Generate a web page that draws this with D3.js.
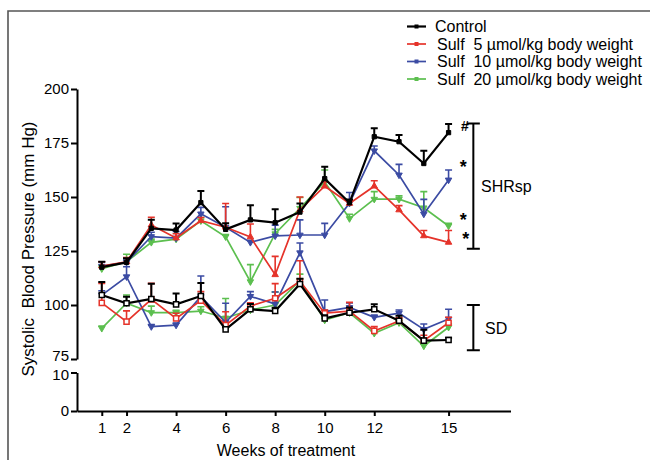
<!doctype html>
<html>
<head>
<meta charset="utf-8">
<script src="https://d3js.org/d3.v7.min.js"></script>
<style>
  body { margin: 0; background: #fff; }
  svg text { font-family: "Liberation Sans", Arial, sans-serif; fill: #000; white-space: pre; }
</style>
</head>
<body>
<div id="chart"></div>
<script>
// weeks of treatment
var weeks = [1, 2, 3, 4, 5, 6, 7, 8, 9, 10, 11, 12, 13, 14, 15];
var xTicks = [1, 2, 4, 6, 8, 10, 12, 15];
var yTicksUpper = [75, 100, 125, 150, 175, 200];
var yTicksLower = [0, 10];

var seriesNames = ["Control", "Sulf  5 \u00b5mol/kg body weight", "Sulf  10 \u00b5mol/kg body weight", "Sulf  20 \u00b5mol/kg body weight"];
var seriesColors = ["#000000", "#e5332a", "#3b4ba3", "#5cbf4f"];

// SHRsp group (mean, SEM up)
var controlSHR = [117.5, 119.7, 135.5, 134.7, 147.4, 135, 139.4, 138.1, 143, 158.5, 147.3, 177.9, 175.6, 165.5, 179.8];
var controlSHRErr = [2.5, 2, 4, 3, 5.4, 2.8, 6.8, 6.2, 4, 5.5, 1.5, 3.9, 3.1, 5.9, 4];
var sulf5SHR = [118, 120, 137, 131, 139, 136, 131.5, 114, 144, 155, 147, 155, 144, 132, 129];
var sulf5SHRErr = [2, 2, 3.6, 2, 1.5, 11, 6, 8.5, 6, 2, 1.5, 2.5, 2, 2.5, 5.5];
var sulf10SHR = [118, 119.8, 131.7, 131, 142.2, 136, 129, 132, 132.4, 132.4, 147.1, 171.4, 160.2, 142.1, 157.9];
var sulf10SHRErr = [2, 1.5, 2, 3, 3, 9.5, 1, 5, 7, 5.4, 5, 2.2, 4.9, 6.8, 4.6];
var sulf20SHR = [116.8, 120, 129, 130.5, 139, 131.6, 110.8, 133, 144.8, 157, 140, 149, 149, 145, 136.6];
var sulf20SHRErr = [1.5, 3.5, 1.5, 1, 1.5, 1, 7.9, 2, 5, 5.5, 2, 3.5, 1.5, 7.5, 1.2];

// SD group
var controlSD = [104.6, 100.8, 102.8, 100.3, 104.2, 88.7, 98, 97.2, 109.7, 93.8, 96.4, 98, 92.7, 83.5, 83.8];
var controlSDErr = [6, 3, 7, 5, 6, 1, 2.5, 1.5, 2.5, 1.5, 2.4, 2.3, 2.3, 5, 1];
var sulf5SD = [101, 92.3, 102.6, 93.8, 102, 90.7, 99.5, 103.1, 111, 96.2, 97.2, 88, 92.6, 83.5, 91.8];
var sulf5SDErr = [9, 5, 7.4, 2.4, 4.2, 6.2, 1.5, 6.8, 9.5, 1.5, 4, 2, 1.5, 2.5, 2.5];
var sulf10SD = [104.6, 113.1, 90, 90.7, 103.9, 92, 104, 100.5, 124.2, 96.9, 98.9, 94.3, 96.2, 88.7, 93.5];
var sulf10SDErr = [2, 4.6, 1, 1, 9.5, 8.8, 2.2, 5.5, 4.5, 5.4, 2, 1, 1.5, 2.5, 4.5];
var sulf20SD = [89.2, 100.8, 96.5, 96.5, 97.2, 94, 97.7, 100, 111.3, 93, 96.4, 86.9, 91.8, 81, 89.7];
var sulf20SDErr = [1, 3.8, 3, 1, 2, 9, 1.5, 6, 3, 1, 1, 1, 1, 1, 1.5];

// group brackets and significance marks
var shrBracket = [126, 184];
var sdBracket = [79, 100];
var sigMarks = [
  {text: "#", week: 15.5, value: 183.5},
  {text: "*", week: 15.45, value: 164},
  {text: "*", week: 15.45, value: 139.5},
  {text: "*", week: 15.55, value: 130.5}
];

var width = 650, height = 460;
var svg = d3.select("#chart").append("svg")
  .attr("width", width).attr("height", height);

// frame
svg.append("path")
  .attr("d", "M8,462 L8,11 L652,11")
  .attr("fill", "none").attr("stroke", "#555").attr("stroke-width", 1.6);

var x = d3.scaleLinear().domain([0, 17.5]).range([77, 510.5]);
var yUp = d3.scaleLinear().domain([75, 200]).range([359, 89]);
var yLo = d3.scaleLinear().domain([0, 10]).range([411, 372.5]);
function y(v) { return v >= 75 ? yUp(v) : yLo(v); }

// axes
function styleAxis(g) {
  g.selectAll("path, line").attr("stroke", "#000").attr("stroke-width", 2);
  g.selectAll("text").attr("font-size", 15).style("font-family", "'Liberation Sans', Arial, sans-serif");
}
var axUp = svg.append("g").attr("transform", "translate(77,0)")
  .call(d3.axisLeft(yUp).tickValues(yTicksUpper).tickSize(6).tickSizeOuter(0).tickPadding(2))
  .call(styleAxis);
var axLo = svg.append("g").attr("transform", "translate(77,0)")
  .call(d3.axisLeft(yLo).tickValues(yTicksLower).tickSize(6).tickSizeOuter(0).tickPadding(2))
  .call(styleAxis);
// the 75 and 10 labels sit tight together at the break, as in the original
axUp.selectAll(".tick text").filter(function(d) { return d === 75; }).attr("dy", "0.1em");
axLo.selectAll(".tick text").filter(function(d) { return d === 10; }).attr("dy", "0.45em");
svg.append("g").attr("transform", "translate(0,411)")
  .call(d3.axisBottom(x).tickValues(xTicks).tickSize(5).tickSizeOuter(0).tickPadding(6))
  .call(styleAxis);

svg.append("text")
  .attr("transform", "translate(34,249) rotate(-90)")
  .attr("text-anchor", "middle").attr("font-size", 17)
  .text("Systolic  Blood Pressure (mm Hg)");
svg.append("text")
  .attr("x", 286).attr("y", 456)
  .attr("text-anchor", "middle").attr("font-size", 16)
  .text("Weeks of treatment");

var shr = [
  {vals: sulf20SHR, err: sulf20SHRErr, c: 3},
  {vals: sulf10SHR, err: sulf10SHRErr, c: 2},
  {vals: sulf5SHR, err: sulf5SHRErr, c: 1},
  {vals: controlSHR, err: controlSHRErr, c: 0}
];
var sd = [
  {vals: sulf20SD, err: sulf20SDErr, c: 3},
  {vals: sulf10SD, err: sulf10SDErr, c: 2},
  {vals: sulf5SD, err: sulf5SDErr, c: 1},
  {vals: controlSD, err: controlSDErr, c: 0}
];

var line = d3.line().x(function(d) { return x(d.w); }).y(function(d) { return y(d.v); });

function drawSeries(s, openMarker) {
  var col = seriesColors[s.c];
  var pts = weeks.map(function(w, i) { return {w: w, v: s.vals[i], e: s.err[i]}; });
  var g = svg.append("g");
  // error bars (upper only)
  g.selectAll(".eb").data(pts).enter().append("path")
    .attr("d", function(d) {
      var px = x(d.w), y0 = y(d.v), y1 = y(d.v + d.e);
      return "M" + px + "," + y0 + "V" + y1 + "M" + (px - 3.5) + "," + y1 + "H" + (px + 3.5);
    })
    .attr("fill", "none").attr("stroke", col).attr("stroke-width", s.c === 0 ? 2 : 1.6);
  g.append("path").datum(pts).attr("d", line)
    .attr("fill", "none").attr("stroke", col).attr("stroke-width", s.c === 0 ? 2.2 : 1.7);
  var open = openMarker && s.c <= 1;
  var sym = (s.c === 0 || open) ? d3.symbolSquare : d3.symbolTriangle;
  var size = open ? 26 : 18;
  g.selectAll(".mk").data(pts).enter().append("path")
    .attr("d", d3.symbol().type(sym).size(size))
    .attr("transform", function(d) {
      var rot = (s.c >= 2) ? " rotate(180)" : "";
      return "translate(" + x(d.w) + "," + y(d.v) + ")" + rot;
    })
    .attr("fill", open ? "#fff" : col)
    .attr("stroke", col).attr("stroke-width", open ? 1.5 : 1);
}
sd.forEach(function(s) { drawSeries(s, true); });
shr.forEach(function(s) { drawSeries(s, false); });

// group brackets
function bracket(range, label, labelX) {
  var bx = x(16);
  var y0 = y(range[0]), y1 = y(range[1]);
  svg.append("path")
    .attr("d", "M" + bx + "," + y0 + "V" + y1 + "M" + (bx - 6.5) + "," + y0 + "H" + (bx + 6.5) + "M" + (bx - 6.5) + "," + y1 + "H" + (bx + 6.5))
    .attr("fill", "none").attr("stroke", "#000").attr("stroke-width", 2);
  svg.append("text").attr("x", labelX).attr("y", (y0 + y1) / 2 + 6)
    .attr("font-size", 16).text(label);
}
bracket(shrBracket, "SHRsp", 481);
bracket(sdBracket, "SD", 485);

svg.selectAll(".sig").data(sigMarks).enter().append("text")
  .attr("x", function(d) { return x(d.week); })
  .attr("y", function(d) { return y(d.value) + 6; })
  .attr("font-size", function(d) { return d.text === "#" ? 14 : 18; })
  .attr("font-weight", "bold")
  .text(function(d) { return d.text; });

// legend
var legend = svg.append("g");
seriesNames.forEach(function(name, i) {
  var ly = 26.5 + i * 17.5;
  legend.append("line").attr("x1", 407).attr("x2", 426).attr("y1", ly).attr("y2", ly)
    .attr("stroke", seriesColors[i]).attr("stroke-width", i === 0 ? 2.2 : 1.7);
  legend.append("rect").attr("x", 414.5).attr("y", ly - 2).attr("width", 4).attr("height", 4)
    .attr("fill", seriesColors[i]);
  legend.append("text").attr("x", i === 0 ? 435 : 437).attr("y", ly + 5.5)
    .attr("font-size", 16).text(name);
});
</script>
</body>
</html>
